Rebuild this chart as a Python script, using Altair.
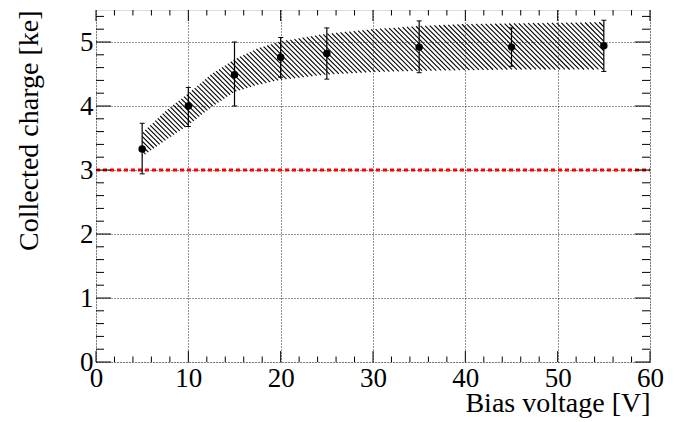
import altair as alt
import numpy as np
import pandas as pd

# ---------------- data ----------------
volts = [5, 10, 15, 20, 25, 35, 45, 55]
charge = [3.33, 4.00, 4.49, 4.76, 4.82, 4.92, 4.92, 4.94]
err_hi = [3.73, 4.29, 5.00, 5.07, 5.22, 5.33, 5.22, 5.34]
err_lo = [2.94, 3.68, 4.00, 4.45, 4.42, 4.52, 4.62, 4.54]

band_v = [5, 7.5, 10, 12.5, 15, 17.5, 20, 25, 30, 35, 40, 45, 50, 55]
band_hi = [3.58, 3.92, 4.20, 4.50, 4.73, 4.90, 5.01, 5.13, 5.20, 5.25, 5.28, 5.29, 5.30, 5.31]
band_lo = [3.21, 3.46, 3.70, 3.98, 4.22, 4.33, 4.41, 4.49, 4.53, 4.55, 4.56, 4.57, 4.57, 4.57]

threshold = [3.0]

x_major = [0, 10, 20, 30, 40, 50, 60]
x_minor = [v for v in range(0, 61, 2) if v % 10 != 0]
y_major = [0, 1, 2, 3, 4, 5]
y_minor = [round(v * 0.2, 1) for v in range(0, 28) if v % 5 != 0]

# ---------------- layout ----------------
W, H = 554, 352
XMAX, YMAX = 60.0, 5.5
FONT = "Liberation Serif"

xs = alt.Scale(domain=[0, XMAX], nice=False, zero=False)
ys = alt.Scale(domain=[0, YMAX], nice=False, zero=False)

# ---------------- hatch pattern for the band (derived) ----------------
def px(v):
    return np.asarray(v) / XMAX * W

def py(q):
    return H - np.asarray(q) / YMAX * H

fine_v = np.linspace(band_v[0], band_v[-1], 6001)
up_px = py(np.interp(fine_v, band_v, band_hi))
lo_px = py(np.interp(fine_v, band_v, band_lo))
fx = px(fine_v)
segs = []
spacing = 4.8
for c in np.arange(fx.min() - H, fx.max() + spacing, spacing):
    yl = fx - c
    inside = (yl >= up_px) & (yl <= lo_px)
    if not inside.any():
        continue
    idx = np.where(inside)[0]
    breaks = np.where(np.diff(idx) > 1)[0]
    starts = np.concatenate([[idx[0]], idx[breaks + 1]])
    ends = np.concatenate([idx[breaks], [idx[-1]]])
    for s, e in zip(starts, ends):
        segs.append({
            "v0": fx[s] / W * XMAX, "q0": (H - yl[s]) / H * YMAX,
            "v1": fx[e] / W * XMAX, "q1": (H - yl[e]) / H * YMAX,
        })
hatch_df = pd.DataFrame(segs)

pts_df = pd.DataFrame({"v": volts, "q": charge, "lo": err_lo, "hi": err_hi})

# ---------------- axes (identical in every layer so they merge) ----------------
x_axis = alt.Axis(
    values=x_major, grid=True, gridColor="#000000", gridDash=[1, 2], gridWidth=1, gridOpacity=0.85,
    ticks=False, domain=False, labelFont=FONT, labelFontSize=27, labelColor="black",
    labelPadding=3, labelFlush=False, labelOverlap=False,
    title="Bias voltage [V]", titleFont=FONT, titleFontSize=28, titleFontWeight="normal",
    titleColor="black", titleX=W, titleY=49, titleAlign="right", titleBaseline="alphabetic",
)
y_axis = alt.Axis(
    values=y_major, grid=True, gridColor="#000000", gridDash=[1, 2], gridWidth=1, gridOpacity=0.85,
    ticks=False, domain=False, labelFont=FONT, labelFontSize=27, labelColor="black",
    labelPadding=3, labelFlush=False, labelOverlap=False,
    title="Collected charge [ke]", titleFont=FONT, titleFontSize=28, titleFontWeight="normal",
    titleColor="black", titleX=-59, titleY=0, titleAngle=270, titleAlign="right",
    titleBaseline="alphabetic",
)

def X(f):
    return alt.X(f, scale=xs, axis=x_axis)

def Y(f):
    return alt.Y(f, scale=ys, axis=y_axis)

points = alt.Chart(pts_df).mark_circle(size=56, color="black", opacity=1).encode(
    x=X("v:Q"), y=Y("q:Q"),
)

hatch = alt.Chart(hatch_df).mark_rule(color="black", strokeWidth=1.1).encode(
    x=X("v0:Q"), x2="v1:Q", y=Y("q0:Q"), y2="q1:Q",
)

red = alt.Chart(pd.DataFrame({"t": threshold})).mark_rule(
    color="#ff0000", strokeWidth=2.8, strokeDash=[4, 3]
).encode(
    y=Y("t:Q"), x=alt.value(0), x2=alt.value(W),
)

ebar = alt.Chart(pts_df).mark_rule(color="black", strokeWidth=1.2).encode(
    x=X("v:Q"), y=Y("lo:Q"), y2="hi:Q",
)
cap_lo = alt.Chart(pts_df).mark_tick(orient="horizontal", color="black", size=5, thickness=1, opacity=1).encode(
    x=X("v:Q"), y=Y("lo:Q"),
)
cap_hi = alt.Chart(pts_df).mark_tick(orient="horizontal", color="black", size=5, thickness=1, opacity=1).encode(
    x=X("v:Q"), y=Y("hi:Q"),
)

# inward tick marks on all four sides
def xticks(vals, ln):
    d = pd.DataFrame({"v": vals})
    bottom = alt.Chart(d).mark_rule(color="black", strokeWidth=1).encode(
        x=X("v:Q"), y=alt.value(H), y2=alt.value(H - ln))
    top = alt.Chart(d).mark_rule(color="black", strokeWidth=1).encode(
        x=X("v:Q"), y=alt.value(0), y2=alt.value(ln))
    return [bottom, top]

def yticks(vals, ln):
    d = pd.DataFrame({"q": vals})
    left = alt.Chart(d).mark_rule(color="black", strokeWidth=1).encode(
        y=Y("q:Q"), x=alt.value(0), x2=alt.value(ln))
    right = alt.Chart(d).mark_rule(color="black", strokeWidth=1).encode(
        y=Y("q:Q"), x=alt.value(W), x2=alt.value(W - ln))
    return [left, right]

tick_layers = xticks(x_major, 11) + xticks(x_minor, 5.5) + yticks(y_major, 15) + yticks(y_minor, 8)

chart = alt.layer(hatch, red, ebar, cap_lo, cap_hi, *tick_layers, points).properties(
    width=W, height=H,
    autosize=alt.AutoSizeParams(type="none"),
    padding={"left": 88, "top": 2, "right": 20, "bottom": 56},
).configure_view(stroke="black", strokeWidth=2).configure(background="white")

chart.save("out.html", embed_options={"renderer": "svg", "actions": False})
